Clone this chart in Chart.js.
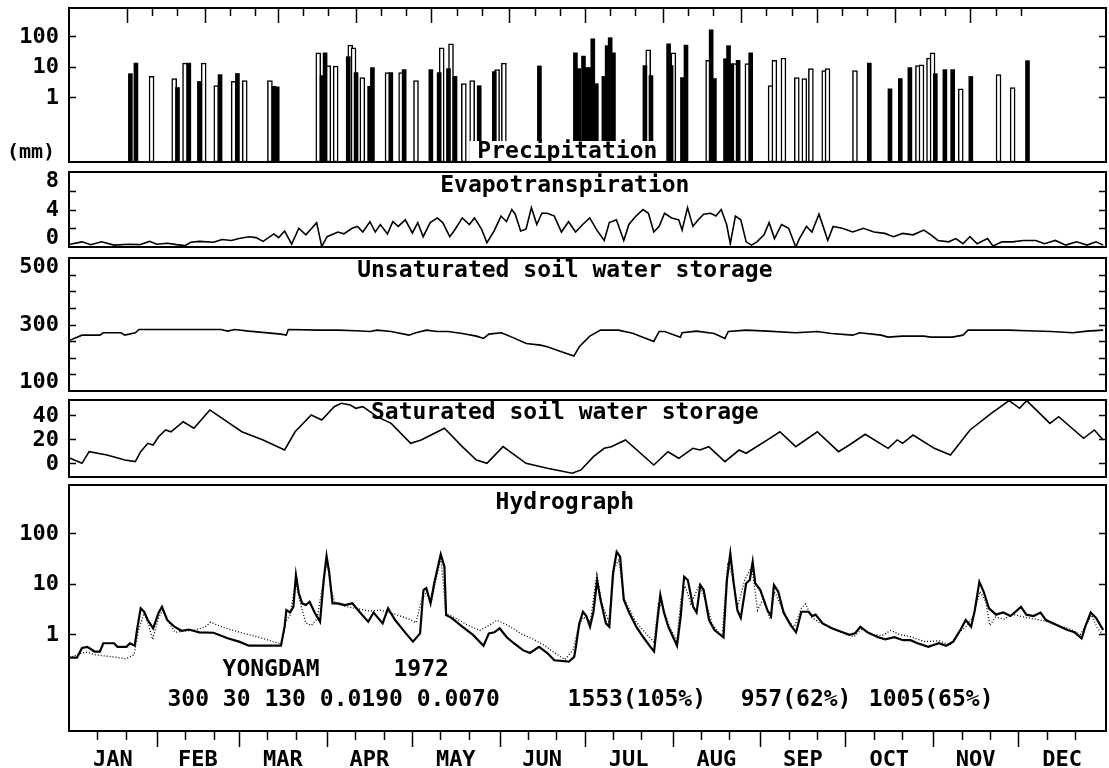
<!DOCTYPE html>
<html>
<head>
<meta charset="utf-8">
<script src="https://cdn.jsdelivr.net/npm/chart.js@4.4.1/dist/chart.umd.min.js"></script>
<style>
  html, body { margin: 0; padding: 0; background: #fff; }
  #wrap { position: relative; width: 1109px; height: 768px; overflow: hidden; background: #fff; }
  canvas { position: absolute; left: 0; }
</style>
</head>
<body>
<div id="wrap"></div>
<script>
const FONT = '"DejaVu Sans Mono", "Liberation Mono", monospace';

// x axis: day of year 1972
const monthNames = ["JAN", "FEB", "MAR", "APR", "MAY", "JUN", "JUL", "AUG", "SEP", "OCT", "NOV", "DEC"];
const monthStarts = [0, 31, 60, 91, 121, 152, 182, 213, 244, 274, 305, 335, 366];

// precipitation (mm), two gauges: open bars and filled bars
const rainOpenDays = [9.9, 18.9, 23.2, 30.6, 35.6, 42.5, 46.9, 56.9, 76.1, 80.1, 83, 88.8, 90.1, 93.6, 103.6, 109, 114.9, 125.1, 128.8, 133.9, 137.2, 147.1, 149.8, 207.1, 217.1, 230.9, 241.5, 246.5, 255.7, 257.2, 260.8, 266.1, 269.1, 271.7, 277, 278.3, 289.2, 314.2, 315.6, 318.6, 320, 331.2, 346.2, 351.8];
const rainOpenVals = [4.8, 4.1, 13, 13, 2.4, 3.3, 3.5, 3.5, 28, 10.8, 10.5, 50, 41, 4.4, 6.4, 6.4, 3.5, 41, 55, 2.8, 3.5, 8, 13, 35, 28, 16, 12.5, 12.5, 2.4, 16, 19, 4.4, 4.1, 8.6, 7.4, 8.6, 7.4, 10.8, 11.5, 19, 28, 1.9, 5.5, 2.1];
const rainFillDays = [1.5, 3.7, 20.2, 24.7, 28.9, 37.1, 44, 58.5, 59.8, 77.6, 78.8, 88, 91.1, 96.5, 97.6, 104.9, 110.2, 120.8, 124.1, 127.8, 130.4, 140, 146, 163.9, 178.2, 179.5, 181.4, 182.6, 183.9, 185.1, 186.5, 189.5, 190.8, 192, 193.3, 205.8, 208.2, 215.2, 216.2, 220.7, 222.1, 232.1, 233.4, 237.8, 239, 240.3, 242.8, 247.8, 294.9, 303.1, 307.2, 311, 321.1, 324.9, 328, 335.2, 357.7];
const rainFillVals = [5.9, 13, 2.1, 13, 3.3, 5.5, 6, 2.3, 2.2, 5.1, 28, 21, 6.4, 2.3, 9.3, 6.4, 8, 8, 6.4, 8.6, 4.8, 2.4, 6.9, 10.5, 28, 8.6, 22, 9.3, 9.3, 80, 2.8, 4.8, 48, 87, 28, 10.8, 5.1, 55, 10.8, 4.4, 50, 155, 4.1, 18, 48, 12.5, 16, 28, 13, 1.9, 4.1, 9.3, 5.9, 8, 8, 4.8, 15.6];

// evapotranspiration (mm/day)
const etDays = [0.4, 4.6, 7.7, 11.5, 15.9, 20.9, 25, 28.4, 31, 34.7, 38, 40.9, 43, 46, 51, 54, 57.3, 60, 63.5, 66, 68.5, 72.3, 74, 76.1, 78.6, 81.1, 83.6, 87.4, 89.2, 91.1, 94.9, 97, 99.9, 101.8, 103.7, 106.2, 108.1, 109.9, 112.4, 114.3, 116.2, 118.7, 121.2, 123.1, 125, 127.5, 130, 131.9, 134.4, 136.3, 138.8, 141.3, 143.1, 145.6, 147.5, 150, 152.5, 154.4, 156.3, 157.5, 159.4, 161.3, 163.2, 165.1, 166.9, 168.8, 171.3, 173.8, 176.3, 178.8, 181.3, 183.8, 186.3, 188.9, 190.7, 193.2, 195.8, 197.6, 200.1, 202.6, 204.5, 206.4, 208.3, 210.2, 212.7, 215.2, 216.4, 218.3, 220.2, 222.1, 224, 226.5, 228.3, 230.2, 232.1, 233.4, 235.2, 237.1, 239, 240.9, 242.8, 245.3, 247.1, 249, 251.5, 254, 256.5, 257.8, 260.3, 262.2, 264.7, 266.6, 267.8, 269.7, 272.9, 276.6, 280.4, 284.1, 287.9, 291, 294.2, 297.9, 301.7, 304.2, 306.7, 310.5, 313, 315.5, 318, 320.5, 324.2, 326.1, 329.3, 333, 336.8, 341.2, 344.3, 348.1, 351.8, 355.6, 359.3, 362.5, 365];
const etVals = [0.3, 0.55, 0.25, 0.55, 0.2, 0.3, 0.25, 0.6, 0.3, 0.4, 0.25, 0.15, 0.5, 0.6, 0.5, 0.8, 0.7, 0.9, 1.1, 1.0, 0.6, 1.4, 1.0, 1.7, 0.3, 2.0, 1.3, 2.6, 0.05, 1.1, 1.6, 1.4, 2.0, 2.2, 1.6, 2.7, 1.6, 2.4, 1.4, 2.7, 2.2, 2.9, 1.5, 2.6, 1.1, 2.6, 3.1, 2.6, 1.1, 1.9, 3.1, 2.4, 3.1, 1.9, 0.45, 1.7, 3.3, 2.7, 4.0, 3.5, 1.7, 1.9, 4.2, 2.4, 3.6, 3.6, 3.3, 1.6, 2.7, 1.6, 2.4, 3.1, 1.8, 0.7, 2.6, 2.9, 0.7, 2.4, 3.3, 4.0, 3.6, 1.6, 2.2, 3.6, 3.1, 2.9, 1.8, 4.2, 2.2, 2.9, 3.5, 3.6, 3.3, 4.0, 2.4, 0.35, 3.3, 2.9, 0.55, 0.2, 0.55, 1.3, 2.6, 0.9, 2.4, 2.0, 0.0, 0.9, 2.2, 1.6, 3.5, 1.8, 0.7, 2.2, 2.0, 1.6, 2.0, 1.6, 1.45, 1.1, 1.45, 1.3, 1.8, 1.3, 0.7, 0.55, 0.9, 0.35, 1.1, 0.35, 0.9, 0.1, 0.55, 0.55, 0.7, 0.7, 0.35, 0.7, 0.2, 0.55, 0.2, 0.55, 0.2];

// unsaturated soil water storage (mm)
const unsatDays = [0.4, 4.6, 10.9, 12.1, 18.4, 19.7, 23.4, 24.7, 53.6, 56, 58.5, 63.5, 74.8, 76.7, 77.4, 88.6, 94.9, 101.2, 106.2, 108.7, 113.7, 120, 122.4, 126.2, 130, 133.8, 138.8, 143.8, 146.3, 148.2, 152.6, 156.3, 161.4, 166.4, 168.8, 173.8, 178.2, 180.1, 183.8, 187.6, 193.9, 198.9, 206.4, 208.3, 210.2, 215.8, 216.4, 221.5, 227.7, 231.5, 232.7, 239, 246.5, 256.5, 264.1, 269.1, 276.6, 279.1, 286.6, 289.1, 294.2, 301.7, 304.2, 311.7, 315.5, 317.3, 331.8, 338, 346.8, 354.3, 359.3, 365];
const unsatVals = [253, 268, 268, 275, 275, 268, 275, 285, 285, 280, 285, 280, 271, 268, 285, 283, 283, 281, 279, 283, 279, 268, 275, 283, 279, 279, 273, 265, 258, 271, 275, 262, 243, 238, 233, 218, 205, 233, 265, 283, 283, 274, 249, 279, 279, 262, 275, 280, 273, 258, 279, 283, 280, 275, 279, 273, 268, 275, 268, 262, 265, 265, 262, 262, 268, 283, 283, 281, 279, 275, 280, 283];

// saturated soil water storage (mm)
const satDays = [0.4, 4.6, 7.1, 13.4, 19.7, 23.4, 25.3, 27.8, 29.7, 31.6, 34.1, 36, 40.3, 44.1, 49.7, 61, 68.5, 76.1, 79.8, 85.5, 89.2, 93.6, 96.1, 99.3, 101.2, 103.7, 108.7, 113.7, 120.6, 124.3, 132.5, 138.8, 143.8, 147.5, 153.2, 161.3, 168.8, 177.6, 180.7, 185.1, 188.9, 191.4, 196.4, 206.4, 211.4, 215.2, 220.2, 222.7, 225.8, 231.5, 236.5, 239, 246.5, 250.9, 256.5, 264.1, 271.6, 275.4, 281, 289.1, 292.3, 294.2, 297.9, 305.4, 311.1, 318, 325.5, 331.8, 335.5, 338, 346.2, 349.3, 358.1, 361.9, 365];
const satVals = [3.9, -0.3, 9.4, 6.7, 2.5, 1.1, 9.4, 16.4, 15, 21.9, 27.5, 26, 34.4, 28.9, 44.2, 26, 19.2, 10.8, 26, 40, 35.8, 46.9, 49.8, 48.3, 45.6, 46.9, 38.6, 33, 16.4, 19.2, 28.9, 13.6, 2.5, -0.3, 13.6, -0.3, -4.4, -8.6, -5.8, 5.3, 12.2, 13.6, 19.2, -1.7, 9.4, 3.9, 12.2, 10.8, 13.6, 1.1, 10.8, 8.1, 19.2, 26, 13.6, 26, 9.4, 15, 23.9, 12.2, 19.2, 16.4, 23.3, 12.2, 6.7, 27.5, 41.4, 52, 45.6, 52, 33, 38.6, 20.6, 27.5, 19.2];

// hydrograph (m3/s): simulated (solid) and observed (dotted)
const simDays = [0.2, 2.8, 4.6, 6.5, 9, 10.9, 12.1, 15.9, 17.1, 20.3, 21.5, 23.2, 24, 25.3, 26.5, 27.8, 29.7, 31.6, 32.8, 34.7, 37.2, 39.7, 42.3, 46, 51, 56, 60, 63.5, 69.8, 74.8, 76.1, 76.7, 78, 79.2, 80.1, 81.1, 82.3, 83.6, 84.9, 86.7, 88.6, 89.9, 90.9, 91.8, 93, 94.9, 97.4, 100, 102.5, 105.6, 107.5, 110.7, 112.6, 115.1, 118.9, 121.4, 123.9, 125.1, 126.1, 127.6, 128.9, 131.2, 132.5, 133.1, 135, 138.8, 142.6, 146.3, 148.2, 150.1, 152, 154.5, 157, 160.2, 162.7, 165.9, 168.8, 171.3, 176.4, 178.3, 178.9, 180.1, 181.4, 182.6, 183.9, 185.1, 186.4, 187.6, 189.5, 190.7, 192, 193.3, 194.5, 195.8, 197.7, 200.2, 202.7, 205.2, 206.5, 207.7, 208.7, 210, 211.5, 214.6, 215.9, 217.1, 218.4, 220.3, 221.5, 222.8, 224, 225.9, 227.8, 231, 232.2, 233.4, 234.6, 235.9, 237.1, 239, 240.3, 241.3, 242.2, 244, 246.5, 247.8, 248.8, 250.3, 252.2, 254.7, 256.6, 258.5, 261, 262.3, 263.5, 266, 269.2, 273, 275.5, 277.4, 279.3, 281.8, 285.6, 288.1, 291.3, 294.4, 297, 299.5, 303.3, 307, 309.6, 312.1, 314.6, 316.5, 318.4, 319.7, 321.3, 322.8, 324.7, 327.2, 329.7, 332.3, 336, 337.9, 340.4, 342.9, 344.8, 348.6, 352.4, 354.9, 357.4, 358.7, 360.6, 362.5, 365];
const simFlow = [0.35, 0.35, 0.54, 0.57, 0.46, 0.46, 0.67, 0.67, 0.57, 0.57, 0.67, 0.6, 1.22, 3.27, 2.8, 1.92, 1.32, 2.64, 3.5, 1.92, 1.42, 1.18, 1.25, 1.1, 1.08, 0.84, 0.72, 0.6, 0.6, 0.6, 1.42, 3.02, 2.7, 3.5, 14.8, 6.46, 4.1, 3.8, 4.4, 2.7, 1.78, 11.8, 35, 17.2, 4.1, 4.1, 3.8, 4.1, 2.8, 1.78, 2.7, 1.65, 3.27, 1.92, 1.05, 0.72, 1.05, 7.5, 8.2, 4.1, 10.2, 38, 21.6, 2.4, 2.12, 1.42, 0.98, 0.6, 1.05, 1.1, 1.32, 0.88, 0.67, 0.49, 0.43, 0.57, 0.43, 0.31, 0.29, 0.36, 0.57, 1.65, 2.8, 2.3, 1.42, 2.8, 11.8, 4.8, 1.65, 1.42, 16, 42.5, 34, 4.8, 2.7, 1.42, 0.88, 0.57, 0.46, 1.92, 6, 2.7, 1.42, 0.6, 2.3, 13.7, 11.8, 3.5, 2.7, 9.4, 7.5, 1.92, 1.22, 0.88, 11.8, 39.5, 10.2, 3.0, 2.12, 10.2, 11.8, 27, 10.2, 7.5, 3.0, 2.3, 9.4, 7, 2.7, 1.53, 1.1, 2.8, 2.8, 2.3, 2.45, 1.65, 1.32, 1.1, 0.98, 1.05, 1.42, 1.1, 0.88, 0.8, 0.88, 0.77, 0.77, 0.67, 0.57, 0.67, 0.6, 0.72, 1.22, 1.92, 1.42, 3.0, 10.9, 7, 3.27, 2.45, 2.7, 2.3, 3.5, 2.45, 2.3, 2.7, 1.92, 1.53, 1.22, 1.1, 0.84, 1.42, 2.7, 2.12, 1.22];
const obsDays = [0, 3, 6, 9, 12, 16, 20, 23, 24.5, 26.5, 28, 29.5, 31.5, 33, 35, 37.5, 40, 44, 48, 50, 54, 58, 63, 68, 72, 75, 76.5, 78, 80, 81.5, 83.5, 85.5, 87.5, 89.5, 91, 92.5, 94, 98, 102, 106, 110, 113, 117, 120, 122.5, 124.5, 126, 128, 129.5, 131.3, 133, 137, 141, 145, 149, 151, 155, 160, 164, 168, 171, 175, 178, 179.5, 181.5, 184, 186.3, 188, 190.5, 192.5, 194, 196, 200, 204, 206.5, 208, 209.5, 212, 214.5, 216, 217.5, 219.5, 222.5, 224.5, 227, 230.5, 232.5, 234, 236, 238.5, 241, 243, 245, 247.5, 249, 251, 254, 256, 258.5, 260, 262, 265, 270, 274, 277, 280, 283, 287, 290, 293, 297, 302, 307, 311, 314, 316.5, 319, 321.5, 323.5, 325, 327, 330, 333, 337, 341, 345, 349, 353, 357, 359, 361, 363, 365];
const obsFlow = [0.35, 0.4, 0.45, 0.4, 0.38, 0.36, 0.33, 0.4, 1.2, 2.6, 1.6, 0.8, 2.0, 3.0, 1.8, 1.1, 1.15, 1.2, 1.4, 1.75, 1.4, 1.2, 1.0, 0.85, 0.72, 0.65, 1.8, 2.4, 11, 4.5, 1.7, 1.5, 2.0, 9, 28, 8, 4.0, 3.5, 3.2, 2.9, 3.0, 2.7, 2.3, 2.0, 1.7, 5, 6.5, 4.5, 12, 33, 2.6, 2.0, 1.5, 1.2, 1.6, 1.9, 1.5, 1.0, 0.8, 0.6, 0.45, 0.32, 0.5, 1.2, 2.2, 1.8, 15, 4.2, 1.8, 20, 30, 5, 1.8, 1.0, 0.7, 4, 3.5, 1.4, 0.75, 5, 9, 4, 9.5, 5, 1.6, 0.9, 26, 15, 3.5, 12, 22, 3.0, 5, 2, 7, 4, 1.8, 1.4, 3.3, 4.0, 2.2, 1.7, 1.3, 1.0, 0.9, 1.3, 1.0, 0.95, 1.2, 1.0, 0.9, 0.72, 0.75, 0.62, 1.1, 1.4, 2.2, 7, 4.5, 1.5, 2.2, 2.0, 2.5, 2.2, 2.0, 1.8, 1.5, 1.3, 1.0, 1.6, 2.4, 1.3, 1.0];

// text notes inside the hydrograph panel
const noteTexts = ["YONGDAM", "1972", "300 30 130 0.0190 0.0070", "1553(105%)", "957(62%)", "1005(65%)"];
const noteDays = [71.3, 124.3, 93.4, 200.4, 256.6, 304.3];
const noteFlows = [0.2, 0.2, 0.051, 0.051, 0.051, 0.051];

const RAIN_MIN = 0.008;

function pts(xs, ys) {
  return xs.map((x, i) => ({ x, y: ys[i] }));
}

// bars rising from the bottom of the log axis
function rainBars(xs, ys) {
  return xs.map((x, i) => ({ x, y: [RAIN_MIN, ys[i]] }));
}

function dekadTicks() {
  const out = [];
  for (let m = 0; m < 12; m += 1) {
    out.push({ day: monthStarts[m], long: true });
    out.push({ day: monthStarts[m] + 10, long: false });
    out.push({ day: monthStarts[m] + 20, long: false });
  }
  return out;
}

const framePlugin = {
  id: "frame",
  afterDatasetsDraw(chart, args, opts) {
    const { ctx, chartArea: a, scales } = chart;
    const xs = scales.x;
    const ys = scales.y;
    ctx.save();
    ctx.strokeStyle = "#000";
    ctx.fillStyle = "#000";

    // inward y tick marks on both sides
    ctx.lineWidth = 1.5;
    (opts.yMarks || []).forEach((v) => {
      const py = Math.round(ys.getPixelForValue(v)) + 0.5;
      ctx.beginPath();
      ctx.moveTo(a.left, py);
      ctx.lineTo(a.left + 7, py);
      ctx.moveTo(a.right, py);
      ctx.lineTo(a.right - 7, py);
      ctx.stroke();
    });

    // y labels, the ones at the panel edges pulled inward
    ctx.font = "bold 22px " + FONT;
    ctx.textAlign = "right";
    ctx.textBaseline = "middle";
    (opts.yLabels || []).forEach((v) => {
      let py = ys.getPixelForValue(v) + 1;
      if (py < a.top + 6) py = a.top + 9;
      if (py > a.bottom - 6) py = a.bottom - 9;
      ctx.fillText(String(v), a.left - 10, py);
    });

    if (opts.topTicks || opts.bottomTicks) {
      dekadTicks().forEach((t) => {
        const px = Math.round(xs.getPixelForValue(t.day)) + 0.5;
        if (px <= a.left + 1) return;
        ctx.beginPath();
        if (opts.topTicks) {
          ctx.moveTo(px, a.top);
          ctx.lineTo(px, a.top + (t.long ? 15 : 8));
        }
        if (opts.bottomTicks) {
          ctx.moveTo(px, a.bottom);
          ctx.lineTo(px, a.bottom + (t.long ? 16 : 9));
        }
        ctx.stroke();
      });
    }

    // panel title
    if (opts.title) {
      ctx.font = "bold 23px " + FONT;
      ctx.textAlign = "center";
      const tx = xs.getPixelForValue(175);
      if (opts.titleAtBottom) {
        const w = ctx.measureText(opts.title).width;
        ctx.fillStyle = "#fff";
        ctx.fillRect(tx - w / 2 - 8, a.bottom - 21, w + 16, 20);
        ctx.fillStyle = "#000";
        ctx.textBaseline = "alphabetic";
        ctx.fillText(opts.title, tx, a.bottom - 4);
      } else {
        ctx.textBaseline = "top";
        ctx.fillText(opts.title, tx, a.top + (opts.titleOffset || 3));
      }
    }

    if (opts.unitLabel) {
      ctx.font = "bold 20px " + FONT;
      ctx.textAlign = "center";
      ctx.textBaseline = "middle";
      ctx.fillText(opts.unitLabel, a.left - 38, a.bottom - 9);
    }

    if (opts.notes) {
      ctx.font = "bold 23px " + FONT;
      ctx.textAlign = "center";
      ctx.textBaseline = "middle";
      noteTexts.forEach((txt, i) => {
        ctx.fillText(txt, xs.getPixelForValue(noteDays[i]), ys.getPixelForValue(noteFlows[i]));
      });
    }

    // panel border
    ctx.lineWidth = 2;
    ctx.strokeRect(a.left, a.top, a.width, a.height);
    ctx.restore();
  },
};

function addCanvas(top, height) {
  const c = document.createElement("canvas");
  c.width = 1109;
  c.height = height;
  c.style.top = top + "px";
  c.style.width = "1109px";
  c.style.height = height + "px";
  document.getElementById("wrap").appendChild(c);
  return c;
}

function yScale(type, min, max) {
  return {
    type,
    min,
    max,
    afterFit: (s) => { s.width = 69; },
    ticks: { display: false },
    grid: { display: false, drawTicks: false },
    border: { display: false },
  };
}

function hiddenX() {
  return { type: "linear", min: 0, max: 366, display: false };
}

function makePanel(canvas, datasets, y, x, padTop, padBottom, frame, type) {
  return new Chart(canvas, {
    type: type || "line",
    data: { datasets },
    options: {
      responsive: false,
      animation: false,
      events: [],
      layout: { padding: { top: padTop, bottom: padBottom, left: 0, right: 3 } },
      plugins: { legend: { display: false }, tooltip: { enabled: false }, frame },
      scales: { x, y },
    },
    plugins: [framePlugin],
  });
}

const lineStyle = { borderColor: "#000", borderWidth: 1.6, pointRadius: 0, tension: 0, fill: false };

// Precipitation
makePanel(
  addCanvas(0, 178),
  [
    { type: "bar", data: rainBars(rainFillDays, rainFillVals), backgroundColor: "#000", borderColor: "#000", borderWidth: 0, barThickness: 4, grouped: false, clip: false },
    { type: "bar", data: rainBars(rainOpenDays, rainOpenVals), backgroundColor: "#fff", borderColor: "#000", borderWidth: 1.5, borderSkipped: false, barThickness: 5, grouped: false, clip: false },
  ],
  yScale("logarithmic", RAIN_MIN, 800),
  hiddenX(),
  8, 16,
  { yMarks: [1, 10, 100], yLabels: [1, 10, 100], topTicks: true, title: "Precipitation", titleAtBottom: true, unitLabel: "(mm)" },
  "bar"
);

// Evapotranspiration
makePanel(
  addCanvas(156, 107),
  [{ data: pts(etDays, etVals), ...lineStyle }],
  yScale("linear", 0, 8),
  hiddenX(),
  16, 16,
  { yMarks: [2, 4, 6], yLabels: [0, 4, 8], title: "Evapotranspiration", titleOffset: 3 }
);

// Unsaturated soil water storage
makePanel(
  addCanvas(242, 165),
  [{ data: pts(unsatDays, unsatVals), ...lineStyle }],
  yScale("linear", 100, 500),
  hiddenX(),
  16, 16,
  { yMarks: [150, 200, 250, 300, 350, 400, 450], yLabels: [100, 300, 500], title: "Unsaturated soil water storage", titleOffset: 2 }
);

// Saturated soil water storage
makePanel(
  addCanvas(384, 109),
  [{ data: pts(satDays, satVals), ...lineStyle }],
  yScale("linear", -11.7, 52.5),
  hiddenX(),
  16, 16,
  { yMarks: [0, 20, 40], yLabels: [0, 20, 40], title: "Saturated soil water storage", titleOffset: 2 }
);

// Hydrograph
const monthMids = monthNames.map((m, i) => (monthStarts[i] + monthStarts[i + 1]) / 2);
makePanel(
  addCanvas(469, 299),
  [
    { data: pts(obsDays, obsFlow), borderColor: "#000", borderWidth: 1.3, borderDash: [1, 2], pointRadius: 0, tension: 0, fill: false },
    { data: pts(simDays, simFlow), borderColor: "#000", borderWidth: 2.2, pointRadius: 0, tension: 0, fill: false },
  ],
  yScale("logarithmic", 0.0125, 880),
  {
    type: "linear",
    min: 0,
    max: 366,
    position: "bottom",
    afterFit: (s) => { s.height = 37; },
    afterBuildTicks: (s) => { s.ticks = monthMids.map((v) => ({ value: v })); },
    ticks: {
      callback: (v, i) => monthNames[i],
      autoSkip: false,
      maxRotation: 0,
      font: { family: FONT, weight: "bold", size: 22 },
      color: "#000",
      padding: 16,
    },
    grid: { display: false, drawTicks: false },
    border: { display: false },
  },
  16, 0,
  { yMarks: [1, 10, 100], yLabels: [1, 10, 100], bottomTicks: true, title: "Hydrograph", titleOffset: 7, notes: true }
);
</script>
</body>
</html>
